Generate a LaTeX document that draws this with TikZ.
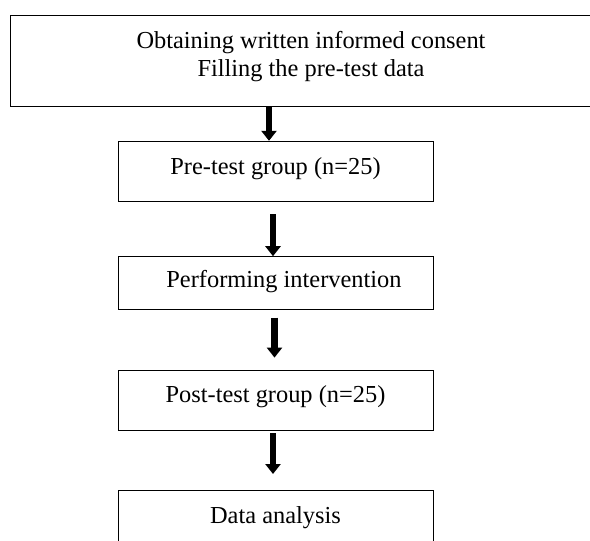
\documentclass[tikz,border=0pt]{standalone}
\usepackage{fontspec}
\setmainfont{Liberation Serif}
\usetikzlibrary{arrows.meta, calc, positioning}
\tikzset{
	node distance = 60pt,
	line width = 1.2pt,
	font = \fontsize{24.4}{28}\selectfont,
	stage/.style={
		draw,
		rectangle,
		minimum width=315pt,
		minimum height=60pt,
		inner sep=0pt,
		text height=16.5pt,
		text depth=10.5pt
	},
	flow/.style={
		-{Triangle[width=15pt,length=10pt]},
		line width=6.5pt
	}
}
\begin{document}
\begin{tikzpicture}[x=1pt, y=1pt]
\useasboundingbox (0,0) rectangle (590,-541);
\clip (0,0) rectangle (590,-541);
% ---
% study steps
% ---
\node[stage, minimum width=602pt, minimum height=91pt, align=center, text height=44.5pt, text depth=13.5pt] at (311,-60.5) (consent) {Obtaining written informed consent\\Filling the pre-test data};
\node[stage] at (275.5,-171) (pre) {Pre-test group (n=25)};
\node[stage, below=55pt of pre, minimum height=53pt, text depth=7.5pt] (perf) {\hspace*{17pt}Performing intervention};
\node[stage, below=of perf] (post) {Post-test group (n=25)};
\node[stage, below=of post] (data) {Data analysis};

\draw[flow] ($(pre.north |- consent.south)+(-6.5,0)$) -- ($(pre.north)+(-6.5,0)$);
\draw[flow] ($(pre.south)+(-2.5,-13)$) -- ($(perf.north)+(-2.5,0)$);
\draw[flow] ($(perf.south)+(-1,-8)$) -- ($(post.north)+(-1,12)$);
\draw[flow] ($(post.south)+(-2.5,-3)$) -- ($(data.north)+(-2.5,16)$);
\end{tikzpicture}
\end{document}
